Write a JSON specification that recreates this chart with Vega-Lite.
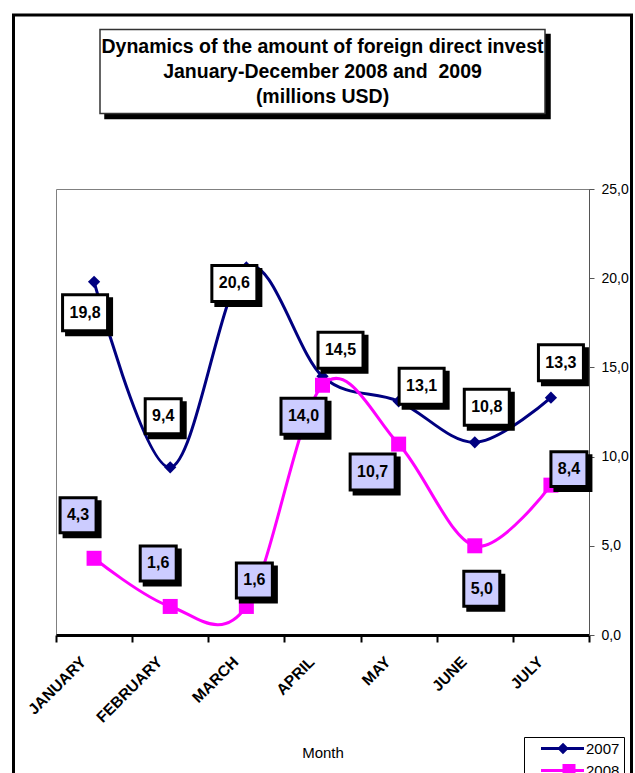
{
  "$schema": "https://vega.github.io/schema/vega-lite/v6.json",
  "width": 533,
  "height": 446,
  "autosize": {"type": "none"},
  "padding": {"left": 56, "top": 189, "right": 46, "bottom": 138},
  "background": "white",
  "data": {
    "values": [
      {"month": "JANUARY", "series": "2007", "value": 19.8},
      {"month": "FEBRUARY", "series": "2007", "value": 9.4},
      {"month": "MARCH", "series": "2007", "value": 20.6},
      {"month": "APRIL", "series": "2007", "value": 14.5},
      {"month": "MAY", "series": "2007", "value": 13.1},
      {"month": "JUNE", "series": "2007", "value": 10.8},
      {"month": "JULY", "series": "2007", "value": 13.3},
      {"month": "JANUARY", "series": "2008", "value": 4.3},
      {"month": "FEBRUARY", "series": "2008", "value": 1.6},
      {"month": "MARCH", "series": "2008", "value": 1.6},
      {"month": "APRIL", "series": "2008", "value": 14.0},
      {"month": "MAY", "series": "2008", "value": 10.7},
      {"month": "JUNE", "series": "2008", "value": 5.0},
      {"month": "JULY", "series": "2008", "value": 8.4}
    ]
  },
  "config": {
    "font": "Liberation Sans",
    "locale": {"number": {"decimal": ",", "thousands": ".", "grouping": [3], "currency": ["", ""]}},
    "view": {"stroke": "#808080", "strokeWidth": 1},
    "legend": {"rowPadding": 0}
  },
  "layer": [
    {
      "data": {"values": [{}]},
      "mark": {"type": "point", "shape": "M-1,-1.254H1V1.254H-1Z", "size": 381924, "filled": false, "stroke": "black", "strokeWidth": 3, "opacity": 1},
      "encoding": {
        "x": {"datum": "APRIL", "type": "nominal"},
        "y": {"datum": 13.03, "type": "quantitative"}
      }
    },
    {
      "data": {"values": [{}]},
      "encoding": {
        "x": {"datum": "APRIL", "type": "nominal"},
        "y": {"datum": 31.59, "type": "quantitative"}
      },
      "layer": [
        {"mark": {"type": "point", "shape": "M-1,-0.189H1V0.189H-1Z", "size": 198025, "filled": true, "fill": "black", "stroke": "black", "strokeWidth": 1.5, "opacity": 1, "xOffset": 5, "yOffset": 5}},
        {"mark": {"type": "point", "shape": "M-1,-0.189H1V0.189H-1Z", "size": 198025, "filled": true, "fill": "white", "stroke": "#333333", "strokeWidth": 1.5, "opacity": 1}},
        {
          "mark": {"type": "text", "fontSize": 19.5, "fontWeight": "bold", "lineHeight": 25, "baseline": "middle", "align": "center", "color": "black", "yOffset": -24},
          "encoding": {"text": {"value": ["Dynamics of the amount of foreign direct invest", "January-December 2008 and\u00a0 2009", "(millions USD)"]}}
        }
      ]
    },
    {
      "encoding": {
        "x": {
          "field": "month",
          "type": "nominal",
          "sort": null,
          "scale": {"domain": ["JANUARY", "FEBRUARY", "MARCH", "APRIL", "MAY", "JUNE", "JULY"], "paddingInner": 0, "paddingOuter": 0},
          "axis": {
            "title": "Month",
            "labelAngle": -45,
            "labelFontWeight": "bold",
            "labelFontSize": 15.5,
            "labelColor": "black",
            "labelPadding": 17,
            "labelOffset": -11,
            "domainColor": "black",
            "domainWidth": 3,
            "tickColor": "black",
            "tickWidth": 2,
            "tickSize": 7,
            "tickBand": "extent",
            "titleFontWeight": "normal",
            "titleFontSize": 15,
            "titleColor": "black",
            "titlePadding": 20
          }
        },
        "y": {
          "field": "value",
          "type": "quantitative",
          "scale": {"domain": [0, 25], "nice": false},
          "axis": {
            "orient": "right",
            "title": null,
            "values": [0, 5, 10, 15, 20, 25],
            "format": ".1f",
            "labelFontSize": 14,
            "labelColor": "black",
            "labelPadding": 7,
            "tickSize": 5,
            "tickColor": "#555555",
            "domainColor": "#555555",
            "gridColor": "#555555",
            "gridWidth": 1
          }
        }
      },
      "layer": [
        {
          "mark": {"type": "line", "interpolate": "cardinal", "tension": 0, "strokeWidth": 3},
          "encoding": {
            "color": {
              "field": "series",
              "type": "nominal",
              "scale": {"domain": ["2007", "2008"], "range": ["#000080", "#FF00FF"]},
              "legend": {
                "orient": "none",
                "legendX": 468,
                "legendY": 548,
                "title": null,
                "padding": 4,
                "strokeColor": "black",
                "fillColor": "white",
                "labelFontSize": 15,
                "labelColor": "black",
                "symbolSize": 64,
                "symbolStrokeWidth": 3,
                "labelOffset": 43,
                "rowPadding": 0,
                "encode": {
                  "symbols": {
                    "update": {
                      "shape": {"signal": "datum.value == '2007' ? 'M1.375,0H12.125M6.875,-0.9L7.775,0L6.875,0.9L5.975,0Z' : 'M1.375,0H12.125M7.125,-1.25H9.625V1.25H7.125Z'"},
                      "stroke": {"signal": "datum.value == '2007' ? '#000080' : '#FF00FF'"},
                      "fill": {"signal": "datum.value == '2007' ? '#000080' : '#FF00FF'"},
                      "size": {"value": 64},
                      "strokeWidth": {"value": 3},
                      "opacity": {"value": 1}
                    }
                  }
                }
              }
            }
          }
        },
        {
          "transform": [{"filter": "datum.series == '2007'"}],
          "mark": {"type": "point", "shape": "diamond", "size": 150, "filled": true, "opacity": 1},
          "encoding": {"color": {"field": "series", "type": "nominal"}}
        },
        {
          "transform": [{"filter": "datum.series == '2008'"}],
          "mark": {"type": "point", "shape": "square", "size": 225, "filled": true, "opacity": 1},
          "encoding": {"color": {"field": "series", "type": "nominal"}}
        },
        {
          "transform": [{"filter": "datum.series == '2007' && datum.month == 'JANUARY'"}],
          "layer": [
            {"mark": {"type": "point", "shape": "M-1,-0.8H1V0.8H-1Z", "size": 2025, "filled": true, "fill": "black", "stroke": "black", "strokeWidth": 3, "opacity": 1, "xOffset": -5, "yOffset": 35}},
            {"mark": {"type": "point", "shape": "M-1,-0.8H1V0.8H-1Z", "size": 2025, "filled": true, "fill": "white", "stroke": "black", "strokeWidth": 3, "opacity": 1, "xOffset": -9, "yOffset": 31}},
            {"mark": {"type": "text", "fontSize": 16, "fontWeight": "bold", "color": "black", "xOffset": -9, "yOffset": 31}, "encoding": {"text": {"field": "value", "type": "quantitative", "format": ".1f"}}}
          ]
        },
        {
          "transform": [{"filter": "datum.series == '2007' && datum.month == 'FEBRUARY'"}],
          "layer": [
            {"mark": {"type": "point", "shape": "M-1,-0.97H1V0.97H-1Z", "size": 1296, "filled": true, "fill": "black", "stroke": "black", "strokeWidth": 3, "opacity": 1, "xOffset": -3, "yOffset": -47}},
            {"mark": {"type": "point", "shape": "M-1,-0.97H1V0.97H-1Z", "size": 1296, "filled": true, "fill": "white", "stroke": "black", "strokeWidth": 3, "opacity": 1, "xOffset": -7, "yOffset": -51}},
            {"mark": {"type": "text", "fontSize": 16, "fontWeight": "bold", "color": "black", "xOffset": -7, "yOffset": -51}, "encoding": {"text": {"field": "value", "type": "quantitative", "format": ".1f"}}}
          ]
        },
        {
          "transform": [{"filter": "datum.series == '2007' && datum.month == 'MARCH'"}],
          "layer": [
            {"mark": {"type": "point", "shape": "M-1,-0.8H1V0.8H-1Z", "size": 2025, "filled": true, "fill": "black", "stroke": "black", "strokeWidth": 3, "opacity": 1, "xOffset": -8, "yOffset": 20}},
            {"mark": {"type": "point", "shape": "M-1,-0.8H1V0.8H-1Z", "size": 2025, "filled": true, "fill": "white", "stroke": "black", "strokeWidth": 3, "opacity": 1, "xOffset": -12, "yOffset": 16}},
            {"mark": {"type": "text", "fontSize": 16, "fontWeight": "bold", "color": "black", "xOffset": -12, "yOffset": 16}, "encoding": {"text": {"field": "value", "type": "quantitative", "format": ".1f"}}}
          ]
        },
        {
          "transform": [{"filter": "datum.series == '2007' && datum.month == 'APRIL'"}],
          "layer": [
            {"mark": {"type": "point", "shape": "M-1,-0.8H1V0.8H-1Z", "size": 2025, "filled": true, "fill": "black", "stroke": "black", "strokeWidth": 3, "opacity": 1, "xOffset": 22, "yOffset": -22}},
            {"mark": {"type": "point", "shape": "M-1,-0.8H1V0.8H-1Z", "size": 2025, "filled": true, "fill": "white", "stroke": "black", "strokeWidth": 3, "opacity": 1, "xOffset": 18, "yOffset": -26}},
            {"mark": {"type": "text", "fontSize": 16, "fontWeight": "bold", "color": "black", "xOffset": 18, "yOffset": -26}, "encoding": {"text": {"field": "value", "type": "quantitative", "format": ".1f"}}}
          ]
        },
        {
          "transform": [{"filter": "datum.series == '2007' && datum.month == 'MAY'"}],
          "layer": [
            {"mark": {"type": "point", "shape": "M-1,-0.8H1V0.8H-1Z", "size": 2025, "filled": true, "fill": "black", "stroke": "black", "strokeWidth": 3, "opacity": 1, "xOffset": 27, "yOffset": -11}},
            {"mark": {"type": "point", "shape": "M-1,-0.8H1V0.8H-1Z", "size": 2025, "filled": true, "fill": "white", "stroke": "black", "strokeWidth": 3, "opacity": 1, "xOffset": 23, "yOffset": -15}},
            {"mark": {"type": "text", "fontSize": 16, "fontWeight": "bold", "color": "black", "xOffset": 23, "yOffset": -15}, "encoding": {"text": {"field": "value", "type": "quantitative", "format": ".1f"}}}
          ]
        },
        {
          "transform": [{"filter": "datum.series == '2007' && datum.month == 'JUNE'"}],
          "layer": [
            {"mark": {"type": "point", "shape": "M-1,-0.8H1V0.8H-1Z", "size": 2025, "filled": true, "fill": "black", "stroke": "black", "strokeWidth": 3, "opacity": 1, "xOffset": 16, "yOffset": -31}},
            {"mark": {"type": "point", "shape": "M-1,-0.8H1V0.8H-1Z", "size": 2025, "filled": true, "fill": "white", "stroke": "black", "strokeWidth": 3, "opacity": 1, "xOffset": 12, "yOffset": -35}},
            {"mark": {"type": "text", "fontSize": 16, "fontWeight": "bold", "color": "black", "xOffset": 12, "yOffset": -35}, "encoding": {"text": {"field": "value", "type": "quantitative", "format": ".1f"}}}
          ]
        },
        {
          "transform": [{"filter": "datum.series == '2007' && datum.month == 'JULY'"}],
          "layer": [
            {"mark": {"type": "point", "shape": "M-1,-0.8H1V0.8H-1Z", "size": 2025, "filled": true, "fill": "black", "stroke": "black", "strokeWidth": 3, "opacity": 1, "xOffset": 14, "yOffset": -31}},
            {"mark": {"type": "point", "shape": "M-1,-0.8H1V0.8H-1Z", "size": 2025, "filled": true, "fill": "white", "stroke": "black", "strokeWidth": 3, "opacity": 1, "xOffset": 10, "yOffset": -35}},
            {"mark": {"type": "text", "fontSize": 16, "fontWeight": "bold", "color": "black", "xOffset": 10, "yOffset": -35}, "encoding": {"text": {"field": "value", "type": "quantitative", "format": ".1f"}}}
          ]
        },
        {
          "transform": [{"filter": "datum.series == '2008' && datum.month == 'JANUARY'"}],
          "layer": [
            {"mark": {"type": "point", "shape": "M-1,-0.97H1V0.97H-1Z", "size": 1296, "filled": true, "fill": "black", "stroke": "black", "strokeWidth": 3, "opacity": 1, "xOffset": -12, "yOffset": -39}},
            {"mark": {"type": "point", "shape": "M-1,-0.97H1V0.97H-1Z", "size": 1296, "filled": true, "fill": "#CCCCFF", "stroke": "black", "strokeWidth": 3, "opacity": 1, "xOffset": -16, "yOffset": -43}},
            {"mark": {"type": "text", "fontSize": 16, "fontWeight": "bold", "color": "black", "xOffset": -16, "yOffset": -43}, "encoding": {"text": {"field": "value", "type": "quantitative", "format": ".1f"}}}
          ]
        },
        {
          "transform": [{"filter": "datum.series == '2008' && datum.month == 'FEBRUARY'"}],
          "layer": [
            {"mark": {"type": "point", "shape": "M-1,-0.97H1V0.97H-1Z", "size": 1296, "filled": true, "fill": "black", "stroke": "black", "strokeWidth": 3, "opacity": 1, "xOffset": -8, "yOffset": -39}},
            {"mark": {"type": "point", "shape": "M-1,-0.97H1V0.97H-1Z", "size": 1296, "filled": true, "fill": "#CCCCFF", "stroke": "black", "strokeWidth": 3, "opacity": 1, "xOffset": -12, "yOffset": -43}},
            {"mark": {"type": "text", "fontSize": 16, "fontWeight": "bold", "color": "black", "xOffset": -12, "yOffset": -43}, "encoding": {"text": {"field": "value", "type": "quantitative", "format": ".1f"}}}
          ]
        },
        {
          "transform": [{"filter": "datum.series == '2008' && datum.month == 'MARCH'"}],
          "layer": [
            {"mark": {"type": "point", "shape": "M-1,-0.97H1V0.97H-1Z", "size": 1296, "filled": true, "fill": "black", "stroke": "black", "strokeWidth": 3, "opacity": 1, "xOffset": 12, "yOffset": -22}},
            {"mark": {"type": "point", "shape": "M-1,-0.97H1V0.97H-1Z", "size": 1296, "filled": true, "fill": "#CCCCFF", "stroke": "black", "strokeWidth": 3, "opacity": 1, "xOffset": 8, "yOffset": -26}},
            {"mark": {"type": "text", "fontSize": 16, "fontWeight": "bold", "color": "black", "xOffset": 8, "yOffset": -26}, "encoding": {"text": {"field": "value", "type": "quantitative", "format": ".1f"}}}
          ]
        },
        {
          "transform": [{"filter": "datum.series == '2008' && datum.month == 'APRIL'"}],
          "layer": [
            {"mark": {"type": "point", "shape": "M-1,-0.8H1V0.8H-1Z", "size": 2025, "filled": true, "fill": "black", "stroke": "black", "strokeWidth": 3, "opacity": 1, "xOffset": -15, "yOffset": 35}},
            {"mark": {"type": "point", "shape": "M-1,-0.8H1V0.8H-1Z", "size": 2025, "filled": true, "fill": "#CCCCFF", "stroke": "black", "strokeWidth": 3, "opacity": 1, "xOffset": -19, "yOffset": 31}},
            {"mark": {"type": "text", "fontSize": 16, "fontWeight": "bold", "color": "black", "xOffset": -19, "yOffset": 31}, "encoding": {"text": {"field": "value", "type": "quantitative", "format": ".1f"}}}
          ]
        },
        {
          "transform": [{"filter": "datum.series == '2008' && datum.month == 'MAY'"}],
          "layer": [
            {"mark": {"type": "point", "shape": "M-1,-0.8H1V0.8H-1Z", "size": 2025, "filled": true, "fill": "black", "stroke": "black", "strokeWidth": 3, "opacity": 1, "xOffset": -22, "yOffset": 32}},
            {"mark": {"type": "point", "shape": "M-1,-0.8H1V0.8H-1Z", "size": 2025, "filled": true, "fill": "#CCCCFF", "stroke": "black", "strokeWidth": 3, "opacity": 1, "xOffset": -26, "yOffset": 28}},
            {"mark": {"type": "text", "fontSize": 16, "fontWeight": "bold", "color": "black", "xOffset": -26, "yOffset": 28}, "encoding": {"text": {"field": "value", "type": "quantitative", "format": ".1f"}}}
          ]
        },
        {
          "transform": [{"filter": "datum.series == '2008' && datum.month == 'JUNE'"}],
          "layer": [
            {"mark": {"type": "point", "shape": "M-1,-0.97H1V0.97H-1Z", "size": 1296, "filled": true, "fill": "black", "stroke": "black", "strokeWidth": 3, "opacity": 1, "xOffset": 11, "yOffset": 47}},
            {"mark": {"type": "point", "shape": "M-1,-0.97H1V0.97H-1Z", "size": 1296, "filled": true, "fill": "#CCCCFF", "stroke": "black", "strokeWidth": 3, "opacity": 1, "xOffset": 7, "yOffset": 43}},
            {"mark": {"type": "text", "fontSize": 16, "fontWeight": "bold", "color": "black", "xOffset": 7, "yOffset": 43}, "encoding": {"text": {"field": "value", "type": "quantitative", "format": ".1f"}}}
          ]
        },
        {
          "transform": [{"filter": "datum.series == '2008' && datum.month == 'JULY'"}],
          "layer": [
            {"mark": {"type": "point", "shape": "M-1,-0.97H1V0.97H-1Z", "size": 1296, "filled": true, "fill": "black", "stroke": "black", "strokeWidth": 3, "opacity": 1, "xOffset": 22, "yOffset": -12}},
            {"mark": {"type": "point", "shape": "M-1,-0.97H1V0.97H-1Z", "size": 1296, "filled": true, "fill": "#CCCCFF", "stroke": "black", "strokeWidth": 3, "opacity": 1, "xOffset": 18, "yOffset": -16}},
            {"mark": {"type": "text", "fontSize": 16, "fontWeight": "bold", "color": "black", "xOffset": 18, "yOffset": -16}, "encoding": {"text": {"field": "value", "type": "quantitative", "format": ".1f"}}}
          ]
        }
      ]
    }
  ]
}
